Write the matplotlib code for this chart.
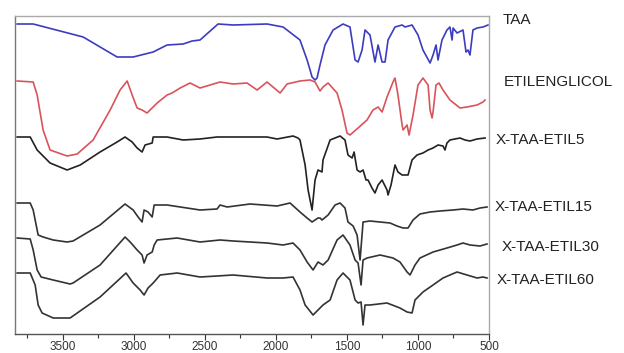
import matplotlib
matplotlib.use("Agg")
import matplotlib.pyplot as plt
from matplotlib.ticker import MultipleLocator

plt.rcParams['font.family'] = ['Liberation Sans', 'DejaVu Sans']

# Wavenumber (cm-1) and transmittance (arbitrary, stacked offsets)
taa_wn = [3823, 3710, 3358, 3119, 3006, 2865, 2767, 2654, 2591, 2535, 2408, 2302, 2063, 1950, 1831,
          1781, 1760, 1746, 1725, 1711, 1690, 1655, 1598, 1528, 1479, 1443, 1422, 1394, 1373, 1352,
          1338, 1303, 1281, 1253, 1232, 1211, 1162, 1112, 1091, 1042, 1000, 965, 915, 894, 873, 859,
          831, 796, 775, 760, 753, 725, 683, 662, 648, 634, 613, 584, 542, 507]
taa_t = [313, 313, 300, 280, 280, 285, 292, 293, 296, 297, 313, 312, 313, 310, 297,
         277, 267, 260, 257, 259, 272, 292, 307, 313, 310, 277, 275, 287, 307, 304,
         302, 275, 292, 275, 275, 297, 310, 312, 310, 312, 302, 287, 274, 282, 292, 277,
         297, 307, 310, 297, 309, 304, 307, 285, 287, 282, 307, 309, 310, 312]

eg_wn = [3823, 3710, 3682, 3640, 3591, 3471, 3400, 3288, 3168, 3098, 3048, 3013, 2978, 2943, 2908,
         2837, 2767, 2732, 2675, 2605, 2535, 2464, 2394, 2302, 2204, 2133, 2063, 1971, 1922, 1831,
         1760, 1725, 1690, 1669, 1633, 1570, 1535, 1500, 1479, 1422, 1359, 1317, 1281, 1253, 1218,
         1176, 1162, 1141, 1112, 1105, 1077, 1063, 1035, 1000, 965, 929, 915, 901, 894, 873, 852,
         824, 775, 704, 655, 584, 542, 528]
eg_t = [256, 255, 242, 207, 187, 181, 183, 197, 227, 247, 256, 242, 229, 227, 224,
        234, 242, 244, 249, 254, 249, 252, 255, 253, 254, 247, 255, 244, 253, 256,
        257, 255, 246, 250, 254, 244, 227, 204, 202, 209, 217, 227, 230, 225, 240,
        255, 259, 242, 212, 207, 212, 202, 222, 252, 259, 252, 227, 219, 225, 252, 254,
        247, 237, 229, 230, 232, 235, 237]

e5_wn = [3823, 3731, 3682, 3591, 3471, 3379, 3239, 3119, 3063, 3013, 2978, 2943, 2922, 2872, 2865,
         2767, 2654, 2535, 2415, 2302, 2063, 1992, 1880, 1845, 1831, 1795, 1774, 1746, 1725, 1704,
         1676, 1669, 1619, 1549, 1514, 1493, 1464, 1450, 1429, 1408, 1387, 1366, 1352, 1324, 1303,
         1281, 1253, 1218, 1211, 1190, 1162, 1141, 1112, 1070, 1042, 1007, 965, 929, 894, 859,
         824, 810, 796, 775, 704, 669, 634, 584, 528]
e5_t = [200, 200, 187, 174, 167, 172, 185, 195, 200, 195, 189, 185, 192, 194, 200,
        200, 197, 198, 200, 200, 200, 198, 201, 199, 197, 172, 147, 127, 157, 167,
        165, 177, 197, 201, 197, 182, 179, 185, 167, 165, 167, 157, 157, 149, 144,
        152, 157, 147, 142, 152, 172, 165, 162, 162, 177, 182, 184, 187, 189, 192,
        191, 187, 194, 197, 199, 197, 196, 198, 199]

e15_wn = [3823, 3731, 3710, 3682, 3675, 3640, 3569, 3471, 3429, 3239, 3063, 3006, 2971, 2943, 2929,
          2901, 2872, 2858, 2767, 2535, 2415, 2394, 2344, 2183, 1992, 1901, 1831, 1781, 1746, 1704,
          1690, 1676, 1633, 1584, 1549, 1514, 1493, 1457, 1429, 1408, 1394, 1387, 1338, 1267, 1197,
          1148, 1105, 1070, 1035, 986, 915, 845, 753, 683, 613, 563, 514]
e15_t = [134, 134, 127, 107, 102, 100, 97, 95, 96, 112, 133, 127, 120, 115, 127,
         125, 120, 132, 132, 127, 128, 132, 130, 133, 131, 134, 125, 119, 115, 119,
         119, 117, 122, 132, 134, 129, 115, 111, 102, 77, 102, 115, 116, 115, 114,
         111, 109, 109, 117, 123, 125, 126, 127, 128, 127, 129, 130]

e30_wn = [3823, 3731, 3710, 3682, 3654, 3569, 3450, 3429, 3239, 3063, 3027, 2978, 2943, 2929, 2908,
          2872, 2858, 2837, 2696, 2535, 2394, 2302, 2063, 1950, 1880, 1831, 1781, 1739, 1704, 1669,
          1633, 1570, 1528, 1479, 1443, 1422, 1401, 1387, 1359, 1267, 1176, 1127, 1077, 1056, 1021,
          986, 894, 796, 725, 683, 634, 563, 514]
e30_t = [99, 98, 87, 67, 60, 57, 53, 54, 72, 100, 95, 87, 82, 74, 82,
         85, 92, 97, 99, 95, 97, 96, 94, 92, 94, 87, 75, 67, 75, 72,
         77, 97, 102, 92, 77, 74, 52, 77, 79, 82, 79, 75, 65, 62, 72,
         79, 85, 89, 92, 94, 92, 91, 93]

e60_wn = [3823, 3731, 3696, 3675, 3647, 3569, 3450, 3239, 3056, 3006, 2957, 2929, 2901, 2865, 2816,
          2696, 2535, 2415, 2302, 2063, 1950, 1880, 1831, 1795, 1739, 1704, 1669, 1619, 1570, 1528,
          1479, 1443, 1422, 1401, 1387, 1373, 1338, 1218, 1127, 1077, 1042, 1021, 965, 894, 824,
          775, 725, 655, 584, 542, 514]
e60_t = [64, 64, 52, 32, 24, 19, 19, 40, 64, 54, 47, 42, 49, 54, 62,
         64, 60, 61, 62, 59, 59, 60, 47, 32, 22, 27, 32, 37, 57, 64,
         57, 37, 34, 35, 12, 32, 32, 34, 29, 25, 24, 37, 45, 52, 59,
         62, 65, 62, 59, 60, 59]

series = [
    (taa_wn, taa_t, '#3c3cc0', 'TAA', 503, 20),
    (eg_wn, eg_t, '#d9545a', 'ETILENGLICOL', 504, 82),
    (e5_wn, e5_t, '#222222', 'X-TAA-ETIL5', 496, 140),
    (e15_wn, e15_t, '#333333', 'X-TAA-ETIL15', 495, 207),
    (e30_wn, e30_t, '#333333', 'X-TAA-ETIL30', 502, 247),
    (e60_wn, e60_t, '#333333', 'X-TAA-ETIL60', 497, 280),
]

W, H = 624, 353
fig = plt.figure(figsize=(W / 100, H / 100), dpi=100)
top_px, bot_px = 16, 334
ax = fig.add_axes([15 / W, 1 - bot_px / H, (489 - 15) / W, (bot_px - top_px) / H])

for wn, t, c, lab, lx, ly in series:
    ax.plot(wn, t, color=c, lw=1.2, solid_joinstyle='round')
    fig.text(lx / W, 1 - ly / H, lab, fontsize=11, color='#222222', ha='left', va='center')

ax.set_xlim(3838, 500)
ax.set_ylim(337 - bot_px, 337 - top_px)
ax.set_yticks([])
ax.xaxis.set_major_locator(MultipleLocator(500))
ax.xaxis.set_minor_locator(MultipleLocator(250))
ax.tick_params(axis='x', which='major', length=4, width=0.8, pad=1, labelsize=8.5, colors='#333333')
ax.tick_params(axis='x', which='minor', length=3, width=0.8, colors='#333333')

for side in ['top', 'right']:
    ax.spines[side].set_color('#aaaaaa')
    ax.spines[side].set_linewidth(1.0)
ax.spines['left'].set_color('#777777')
ax.spines['bottom'].set_color('#555555')
ax.spines['left'].set_linewidth(1.0)
ax.spines['bottom'].set_linewidth(1.0)

fig.savefig('out.png', dpi=100)
